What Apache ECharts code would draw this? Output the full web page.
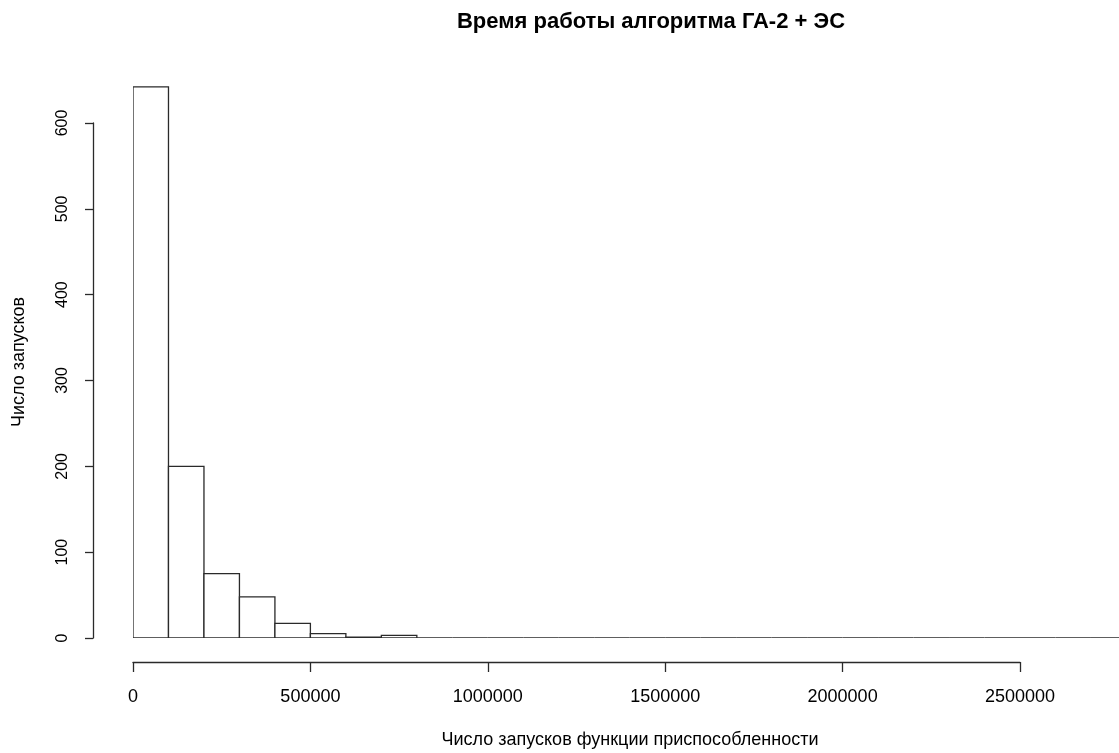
<!DOCTYPE html>
<html>
<head>
<meta charset="utf-8">
<script src="https://cdn.jsdelivr.net/npm/echarts@6/dist/echarts.min.js"></script>
<style>
html,body{margin:0;padding:0;background:#fff;}
#chart{width:1119px;height:753px;}
</style>
</head>
<body>
<div id="chart"></div>
<script>
// ---- data ----
const chartTitle = 'Время работы алгоритма ГА-2 + ЭС';
const xTitle = 'Число запусков функции приспособленности';
const yTitle = 'Число запусков';
const binWidth = 100000;
const binStarts = [0, 100000, 200000, 300000, 400000, 500000, 600000, 700000, 800000, 900000,
  1000000, 1100000, 1200000, 1300000, 1400000, 1500000, 1600000, 1700000, 1800000, 1900000,
  2000000, 2100000, 2200000, 2300000, 2400000, 2500000, 2600000, 2700000];
const counts = [642, 200, 75, 48, 17, 5, 1, 3, 0, 0,
  0, 0, 0, 0, 0, 0, 0, 0, 0, 0,
  0, 0, 0, 0, 0, 0, 0, 0];
const xTicks = [0, 500000, 1000000, 1500000, 2000000, 2500000];
const yTicks = [0, 100, 200, 300, 400, 500, 600];

// ---- layout ----
const W = 1119;
const plotLeft = 133, plotBottom = 638, plotTop = 65;
const xAxisLen = 887;            // px from 0 to last x tick
const yAxisLen = 515;            // px from 0 to last y tick
const xLast = xTicks[xTicks.length - 1];
const yLast = yTicks[yTicks.length - 1];
const xMaxPlot = (W - plotLeft) / xAxisLen * xLast;
const yMaxPlot = (plotBottom - plotTop) / yAxisLen * yLast;

const histData = binStarts.map((s, i) => [s, s + binWidth, counts[i]]);

const font = '"Liberation Sans", Arial, sans-serif';
const lineCol = '#2a2a2a';

const chart = echarts.init(document.getElementById('chart'), null, {renderer: 'canvas'});
chart.setOption({
  animation: false,
  backgroundColor: '#fff',
  grid: [
    {left: plotLeft, right: 0, top: plotTop, height: plotBottom - plotTop},
    {left: plotLeft, width: xAxisLen, top: 661, height: 1},
    {left: 93, width: 1, top: plotBottom - yAxisLen, height: yAxisLen}
  ],
  xAxis: [
    {gridIndex: 0, type: 'value', min: 0, max: xMaxPlot, show: false},
    {gridIndex: 1, type: 'value', min: 0, max: xLast, interval: 500000, position: 'bottom',
      axisLine: {show: true, lineStyle: {color: lineCol, width: 1.3}},
      axisTick: {show: true, length: 10, lineStyle: {color: lineCol, width: 1.3}},
      axisLabel: {show: true, margin: 26, color: '#000', fontSize: 18, fontFamily: font,
        formatter: v => String(v)},
      splitLine: {show: false}},
    {gridIndex: 2, type: 'value', show: false}
  ],
  yAxis: [
    {gridIndex: 0, type: 'value', min: 0, max: yMaxPlot, show: false},
    {gridIndex: 1, type: 'value', show: false},
    {gridIndex: 2, type: 'value', min: 0, max: yLast, interval: 100, position: 'left',
      axisLine: {show: true, lineStyle: {color: lineCol, width: 1.3}},
      axisTick: {show: true, length: 8, lineStyle: {color: lineCol, width: 1.3}},
      axisLabel: {show: true, rotate: 90, margin: 22, color: '#000', fontSize: 16, fontFamily: font},
      splitLine: {show: false}}
  ],
  series: [{
    type: 'custom',
    xAxisIndex: 0, yAxisIndex: 0,
    clip: true,
    data: histData,
    renderItem: function (params, api) {
      const p0 = api.coord([api.value(0), 0]);
      const p1 = api.coord([api.value(1), api.value(2)]);
      return {
        type: 'rect',
        shape: {x: p0[0], y: p1[1], width: p1[0] - p0[0], height: p0[1] - p1[1]},
        style: {fill: '#fff', stroke: lineCol, lineWidth: 1.3}
      };
    }
  }],
  graphic: [
    {type: 'text', x: 651, y: 22, style: {text: chartTitle, font: 'bold 22px ' + font,
      fill: '#000', align: 'center', verticalAlign: 'middle'}},
    {type: 'text', x: 630, y: 740, style: {text: xTitle, font: '18px ' + font,
      fill: '#000', align: 'center', verticalAlign: 'middle'}},
    {type: 'text', x: 19, y: 362, rotation: Math.PI / 2, style: {text: yTitle, font: '18px ' + font,
      fill: '#000', align: 'center', verticalAlign: 'middle'}}
  ]
});
</script>
</body>
</html>
